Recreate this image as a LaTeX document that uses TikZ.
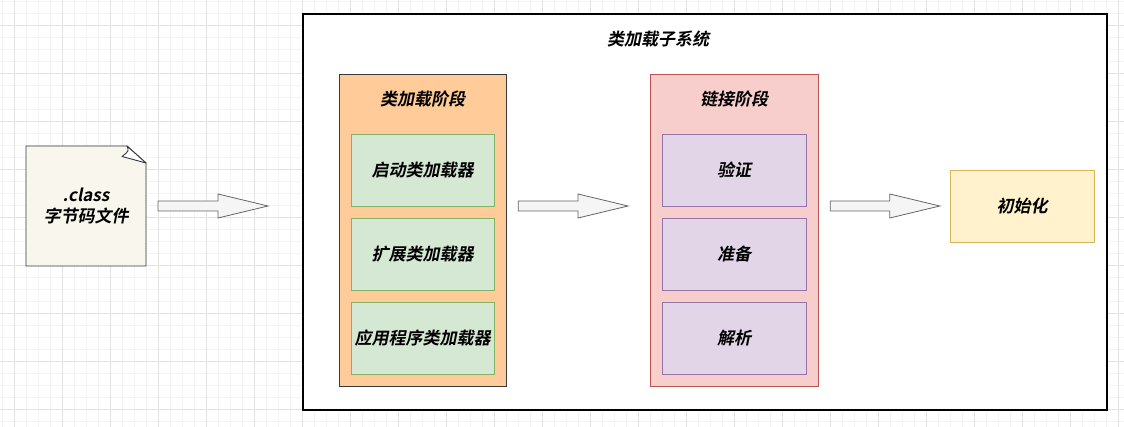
\documentclass[tikz,border=0pt]{standalone}
\usepackage{fontspec}
\setmainfont{Noto Sans CJK SC}[BoldFont={* Bold}, ItalicFont={*}, ItalicFeatures={FakeSlant=0.2}, BoldItalicFont={* Bold}, BoldItalicFeatures={FakeSlant=0.2}]
\usepackage{tikz}
\usetikzlibrary{calc}
\definecolor{gridmin}{HTML}{F4F4F4}
\definecolor{gridmaj}{HTML}{E2E2E2}
\definecolor{orfill}{HTML}{FFCC99}
\definecolor{darkline}{HTML}{36393D}
\definecolor{grfill}{HTML}{D5E8D4}
\definecolor{grline}{HTML}{82B366}
\definecolor{rdfill}{HTML}{F8CECC}
\definecolor{rdline}{HTML}{B85450}
\definecolor{pufill}{HTML}{E1D5E7}
\definecolor{puline}{HTML}{9673A6}
\definecolor{yefill}{HTML}{FFF2CC}
\definecolor{yeline}{HTML}{D6B656}
\definecolor{notefill}{HTML}{F9F7ED}
\definecolor{arrfill}{HTML}{F5F5F5}
\definecolor{arrline}{HTML}{666666}
\tikzstyle{txt} = [font=\fontsize{17}{21}\selectfont\bfseries\itshape, text=black]
\tikzstyle{subsys} = [rectangle, minimum width=804, minimum height=396, draw=black, line width=1.2pt, fill=white]
\tikzstyle{loadstage} = [rectangle, minimum width=167, minimum height=312, draw=darkline, fill=orfill]
\tikzstyle{linkstage} = [rectangle, minimum width=168, minimum height=312, draw=rdline, fill=rdfill]
\tikzstyle{loader} = [rectangle, txt, minimum width=143, minimum height=72, text centered, draw=grline, fill=grfill]
\tikzstyle{linkstep} = [rectangle, txt, minimum width=144, minimum height=72, text centered, draw=puline, fill=pufill]
\tikzstyle{initbox} = [rectangle, txt, minimum width=144, minimum height=72, text centered, draw=yeline, fill=yefill]
\tikzstyle{blockarr} = [draw=arrline, fill=arrfill, line width=0.8pt]
% block arrow from #1 to #2
\newcommand{\blockarrow}[2]{\draw[blockarr] ($(#1)+(0,-5)$) -- ($(#2)+(-50,-5)$) -- ($(#2)+(-50,-12)$) -- (#2) -- ($(#2)+(-50,12)$) -- ($(#2)+(-50,5)$) -- ($(#1)+(0,5)$) -- cycle;}
\begin{document}
\begin{tikzpicture}[x=1pt, y=-1pt, node distance=84pt]
\useasboundingbox (0,0) rectangle (1124,427);
% grid
\foreach \x in {2,14,...,1124} \draw[gridmin, line width=0.6pt] (\x,0) -- (\x,427);
\foreach \y in {1,13,...,427} \draw[gridmin, line width=0.6pt] (0,\y) -- (1124,\y);
\foreach \x in {14,62,...,1124} \draw[gridmaj, line width=0.8pt] (\x,0) -- (\x,427);
\foreach \y in {25,73,...,427} \draw[gridmaj, line width=0.8pt] (0,\y) -- (1124,\y);
% class file
\draw[darkline, fill=notefill, line width=0.9pt] (26,146) -- (127,146) -- (146,163) -- (146,266) -- (26,266) -- cycle;
\draw[darkline, fill=white, line width=0.9pt, line join=round] (127,146) .. controls (129,151) .. (122,156.5) -- (146,163) -- cycle;
\node (cls) [txt, align=center] at (86,206) {.class\\字节码文件};
\coordinate (cls-e) at (146,206);
% subsystem
\node (sub) [subsys] at (705,212) {};
\node (subtitle) [txt] at (658,39) {类加载子系统};
\node (load) [loadstage] at (422.5,230) {};
\node (loadtitle) [txt] at (422.5,99) {类加载阶段};
\node (boot) [loader] at (422.5,170) {启动类加载器};
\node (ext) [loader, below of=boot] {扩展类加载器};
\node (app) [loader, below of=ext] {应用程序类加载器};
\node (link) [linkstage] at (734,230) {};
\node (linktitle) [txt] at (734,99) {链接阶段};
\node (verify) [linkstep] at (734,170) {验证};
\node (prepare) [linkstep, below of=verify] {准备};
\node (resolve) [linkstep, below of=prepare] {解析};
\node (init) [initbox] at (1022,206) {初始化};
% arrows
\coordinate (a1s) at ($(cls-e)+(12,0)$);
\coordinate (a1e) at (268,206);
\coordinate (a2s) at ($(load.east |- cls-e)+(12,0)$);
\coordinate (a2e) at (628,206);
\coordinate (a3s) at ($(link.east |- cls-e)+(12,0)$);
\coordinate (a3e) at ($(init.west)+(-10,0)$);
\blockarrow{a1s}{a1e}
\blockarrow{a2s}{a2e}
\blockarrow{a3s}{a3e}
\end{tikzpicture}
\end{document}
